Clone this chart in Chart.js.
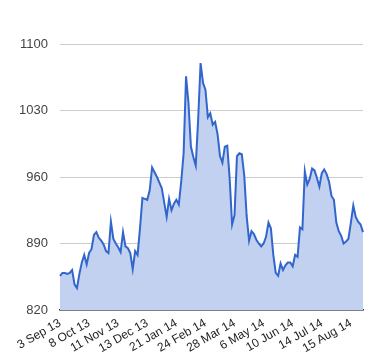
<!DOCTYPE html>
<html lang="en">
<head>
<meta charset="UTF-8">
<title>Chart</title>
<script src="https://cdn.jsdelivr.net/npm/chart.js@4.4.0/dist/chart.umd.min.js"></script>
<style>
    html, body { margin: 0; padding: 0; background: #fff; }
    #wrap { width: 380px; height: 360px; }
</style>
</head>
<body>
<div id="wrap"><canvas id="chart"></canvas></div>
<script>
    // tick labels shown every 12 points
    const tickLabels = ['3 Sep 13', '8 Oct 13', '11 Nov 13', '13 Dec 13', '21 Jan 14', '24 Feb 14',
        '28 Mar 14', '6 May 14', '10 Jun 14', '14 Jul 14', '15 Aug 14'];
    const labelEvery = 12;

    const prices = [
        856, 859, 859, 858, 859, 862, 847, 843, 858, 870,
        878, 868, 880, 884, 899, 902, 896, 893, 889, 882,
        880, 913, 895, 890, 886, 881, 902, 887, 885, 880,
        863, 882, 878, 906, 938, 937, 936, 946, 970, 965,
        960, 954, 948, 933, 918, 937, 925, 932, 936, 931,
        955, 985, 1066, 1038, 992, 981, 972, 1021, 1080, 1059,
        1052, 1023, 1027, 1015, 1018, 1005, 982, 975, 992, 993,
        958, 910, 920, 982, 985, 984, 962, 919, 893, 903,
        900, 894, 890, 887, 890, 897, 912, 906, 878, 859,
        856, 869, 862, 867, 870, 870, 866, 878, 876, 907,
        905, 966, 952, 958, 969, 967, 959, 950, 964, 968,
        963, 955, 940, 936, 912, 903, 898, 890, 892, 895,
        912, 930, 918, 913, 910, 902
    ];

    const yTicks = [820, 890, 960, 1030, 1100];

    const labels = prices.map((p, i) => i % labelEvery === 0 ? tickLabels[i / labelEvery] : '');

    new Chart(document.getElementById('chart'), {
        type: 'line',
        data: {
            labels: labels,
            datasets: [{
                data: prices,
                borderColor: '#3366cc',
                backgroundColor: '#c2d1ef',
                borderWidth: 2,
                pointRadius: 0,
                tension: 0,
                fill: 'start'
            }]
        },
        options: {
            responsive: true,
            maintainAspectRatio: false,
            animation: false,
            layout: { padding: { top: 44, right: 17, left: 0, bottom: 0 } },
            plugins: { legend: { display: false }, tooltip: { enabled: false } },
            scales: {
                x: {
                    grid: { display: false, drawTicks: false },
                    border: { display: true, color: '#333', width: 1.5 },
                    ticks: {
                        autoSkip: false,
                        minRotation: 30,
                        maxRotation: 30,
                        padding: 6,
                        color: '#222',
                        font: { family: 'Liberation Sans, Arial', size: 12 }
                    },
                    afterFit: s => { s.height = 50; }
                },
                y: {
                    min: yTicks[0],
                    max: yTicks[yTicks.length - 1],
                    afterBuildTicks: s => { s.ticks = yTicks.map(v => ({ value: v })); },
                    grid: { color: '#cccccc', drawTicks: false },
                    border: { display: false },
                    ticks: {
                        padding: 12,
                        color: '#444',
                        font: { family: 'Liberation Sans, Arial', size: 13 },
                        callback: v => String(v)
                    },
                    afterFit: s => { s.width = 60; }
                }
            }
        }
    });
</script>
</body>
</html>
